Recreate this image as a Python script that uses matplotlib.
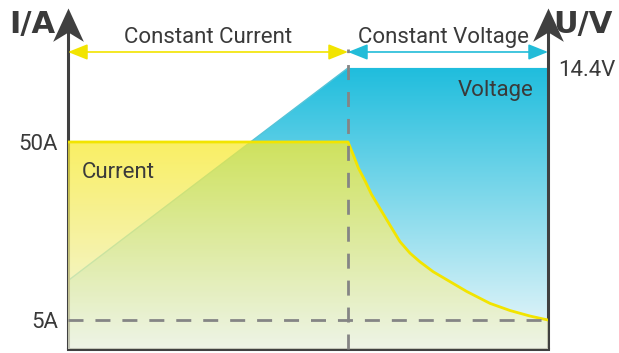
import matplotlib
matplotlib.use("Agg")
import matplotlib.pyplot as plt
import numpy as np
from matplotlib.colors import LinearSegmentedColormap
from matplotlib.path import Path

# charge profile: voltage ramps during constant current, then current decays
t_volt = [0, 7, 12]
volt = [3.5, 14.4, 14.4]

t_curr = [0, 7, 7.13, 7.26, 7.43, 7.59, 7.84, 8.09, 8.3, 8.55, 8.8, 9.13,
          9.55, 9.97, 10.55, 11.05, 11.55, 12]
curr = [50, 50, 46.8, 43.4, 40.1, 36.7, 32.5, 28.3, 24.8, 21.9, 19.7, 17.2,
        14.7, 12.2, 9.2, 7.4, 6.0, 5.0]

switch_t = 7
cutoff_a = 5

i_ticks = [5, 50]
i_labels = ["5A", "50A"]
v_ticks = [14.4]
v_labels = ["14.4V"]

plt.rcParams["font.family"] = ["Roboto", "DejaVu Sans"]
TXT = "#3a3a3a"
AXC = "#404040"
YEL = "#f2e400"
CYAN = "#22bcd8"
FS = 16


def gradient_fill(ax, x, y, y0, colors, alpha, z):
    poly = ax.fill_between(x, y, y0, facecolor="none", edgecolor="none")
    cmap = LinearSegmentedColormap.from_list("g", colors)
    img = ax.imshow(np.linspace(0, 1, 256).reshape(-1, 1), cmap=cmap,
                    aspect="auto", origin="lower", alpha=alpha, zorder=z,
                    extent=[min(x), max(x), y0, max(y)])
    img.set_clip_path(poly.get_paths()[0], transform=ax.transData)


fig = plt.figure(figsize=(6.19, 3.53), dpi=100)
ax_v = fig.add_axes([68 / 619, 4 / 353, 480 / 619, 341 / 353])
ax_i = ax_v.twinx()

# voltage area (drawn underneath)
gradient_fill(ax_v, t_volt, volt, 0, ["#eff8fb", "#1fbddd"], 1.0, 1)
ax_v.plot(t_volt[:2], volt[:2], color="#55c4d8", lw=1, zorder=2)
ax_v.set_xlim(0, 12)
ax_v.set_ylim(0, 17.47)

# current area on top
gradient_fill(ax_i, t_curr, curr, -2.33, ["#eef3e0", "#f8ea30"], 0.75, 1)
ax_i.plot(t_curr, curr, color=YEL, lw=2, zorder=3, solid_joinstyle="round")
ax_i.set_xlim(0, 12)
ax_i.set_ylim(-2.33, 83.87)

# guide lines
ax_i.plot([0, 12], [cutoff_a, cutoff_a], color="#858585", lw=2,
          dashes=(5.4, 4.3), zorder=4, clip_on=False)
arrow_y = 0.871
xt = ax_i.get_xaxis_transform()
ax_i.plot([switch_t, switch_t], [0, arrow_y + 0.01], transform=xt,
          color="#858585", lw=2, dashes=(5.4, 4.3), zorder=4, clip_on=False)

# phase arrows
for x0, x1, c in [(0, switch_t, YEL), (switch_t, 12, CYAN)]:
    ax_i.annotate("", xy=(x1, arrow_y), xytext=(x0, arrow_y), xycoords=xt,
                  textcoords=xt, annotation_clip=False,
                  arrowprops=dict(arrowstyle="<|-|>,head_length=1.0,head_width=0.4",
                                  mutation_scale=12, color=c, lw=1.2,
                                  shrinkA=0, shrinkB=0))
ax_i.text(3.5, 0.897, "Constant Current", transform=xt, ha="center",
          va="baseline", fontsize=FS, color=TXT)
ax_i.text(9.4, 0.897, "Constant Voltage", transform=xt, ha="center",
          va="baseline", fontsize=FS, color=TXT)

ax_i.text(0.35, 40.9, "Current", ha="left", va="baseline", fontsize=FS,
          color=TXT, zorder=5)
ax_v.text(11.65, 12.97, "Voltage", ha="right", va="baseline", fontsize=FS,
          color=TXT, zorder=5)

# axes: notched arrows on left and right, plain bottom line
for ax in (ax_v, ax_i):
    for s in ("top", "left", "right"):
        ax.spines[s].set_visible(False)
    ax.set_xticks([])
ax_i.spines["bottom"].set_visible(False)
ax_v.spines["bottom"].set_color(AXC)
ax_v.spines["bottom"].set_linewidth(2.2)

head = Path([(0, 0), (0.46, -1), (0, -0.72), (-0.46, -1), (0, 0)],
            [Path.MOVETO, Path.LINETO, Path.LINETO, Path.LINETO, Path.CLOSEPOLY])
for xa in (0, 1):
    ax_v.plot([xa, xa], [0, 0.95], transform=ax_v.transAxes, color=AXC,
              lw=2.2, clip_on=False, zorder=6, solid_capstyle="butt")
    ax_v.plot([xa], [1.0], transform=ax_v.transAxes, marker=head,
              markersize=48, color=AXC, markeredgewidth=0, clip_on=False,
              zorder=6)

ax_i.yaxis.tick_left()
ax_i.set_yticks(i_ticks)
ax_i.set_yticklabels(i_labels)
ax_v.yaxis.tick_right()
ax_v.set_yticks(v_ticks)
ax_v.set_yticklabels(v_labels)
for ax in (ax_v, ax_i):
    ax.tick_params(axis="y", length=0, labelsize=FS, labelcolor=TXT, pad=7)

fig.text(55 / 619, 1 - 33 / 353, "I/A", ha="right", va="baseline",
         fontsize=22, fontweight="bold", color=TXT, family="DejaVu Sans")
fig.text(553 / 619, 1 - 33 / 353, "U/V", ha="left", va="baseline",
         fontsize=22, fontweight="bold", color=TXT, family="DejaVu Sans")

fig.savefig("out.png", dpi=100, facecolor="white")
